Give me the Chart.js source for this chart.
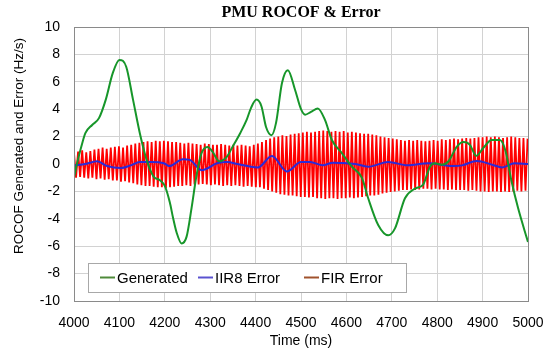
<!DOCTYPE html>
<html>
<head>
<meta charset="utf-8">
<script src="https://cdn.jsdelivr.net/npm/chart.js@4.4.1/dist/chart.umd.min.js"></script>
<style>
html, body { margin: 0; padding: 0; background: #fff; }
#chart { display: block; }
</style>
</head>
<body>
<canvas id="chart" width="550" height="355"></canvas>
<script>
// values
const chartTitle = "PMU ROCOF & Error";
const xTitle = "Time (ms)";
const yTitle = "ROCOF Generated and Error (Hz/s)";
const seriesNames = ["Generated", "IIR8 Error", "FIR Error"];

const xMin = 4000, xMax = 5000, xStep = 100;
const yMin = -10, yMax = 10, yStep = 2;

const genTime = [4000, 4005, 4010, 4018, 4025, 4040, 4055, 4070, 4085, 4100, 4115, 4130, 4145, 4160, 4175,
    4190, 4200, 4211, 4218, 4226, 4237, 4248, 4259, 4270, 4281, 4294, 4305, 4320, 4336, 4350, 4366,
    4380, 4390, 4402, 4413, 4423, 4435, 4445, 4458, 4471, 4487, 4500, 4509, 4522, 4537, 4553, 4568,
    4590, 4612, 4634, 4648, 4670, 4692, 4707, 4729, 4751, 4769, 4784, 4795, 4810, 4825, 4843, 4858,
    4872, 4886, 4901, 4920, 4938, 4950, 4964, 4978, 5000];
const genValues = [-1.0, -0.2, 0.5, 1.5, 2.25, 2.85, 3.35, 4.7, 6.6, 7.6, 7.1, 4.7, 2.25, 0.3, -0.9,
    -1.2, -1.6, -2.8, -3.9, -5.0, -5.8, -5.3, -3.2, -0.8, 0.8, 1.25, 0.9, 0.2, 0.5, 1.3, 2.25,
    3.2, 4.1, 4.7, 4.2, 2.7, 2.1, 3.0, 5.9, 6.85, 5.4, 4.0, 3.6, 3.8, 4.05, 3.2, 1.75,
    0.8, -0.2, -1.0, -2.5, -4.45, -5.2, -4.7, -2.5, -1.8, -1.5, -0.2, 0.05, -0.05, 0.2, 1.25, 1.6,
    1.4, 0.6, 1.15, 1.75, 1.75, 1.0, -1.3, -3.2, -5.7];

const iirTime = [4000, 4025, 4051, 4073, 4103, 4125, 4145, 4170, 4198, 4210, 4240, 4255, 4281, 4315,
    4337, 4360, 4390, 4405, 4436, 4469, 4500, 4520, 4548, 4570, 4600, 4620, 4648, 4692, 4735, 4780,
    4835, 4855, 4887, 4923, 4943, 4970, 5000];
const iirValues = [-0.1, 0.0, 0.2, -0.15, -0.3, -0.1, 0.15, 0.15, 0.05, -0.15, 0.35, 0.3, -0.45, 0.05,
    0.15, 0.0, -0.2, -0.25, 0.58, -0.55, 0.15, 0.15, -0.1, 0.1, 0.05, 0.0, -0.2, 0.15, -0.1, 0.05,
    -0.15, -0.1, 0.22, -0.07, -0.25, 0.05, 0.0];

// FIR error: peaks and troughs, one sample every 4.5 ms from 4000 ms
const firStart = 4000, firStep = 4.5;
const firValues = [
    0.8, -1.0, 0.9, -0.95, 1.0, -1.0, 0.85, -1.05, 0.95, -1.0,
    1.05, -1.1, 1.1, -1.05, 1.2, -1.15, 1.1, -1.1, 1.2, -1.2,
    1.25, -1.2, 1.3, -1.3, 1.2, -1.25, 1.35, -1.35, 1.4, -1.4,
    1.5, -1.5, 1.55, -1.55, 1.6, -1.6, 1.65, -1.6, 1.6, -1.65,
    1.7, -1.7, 1.65, -1.7, 1.7, -1.75, 1.65, -1.7, 1.6, -1.65,
    1.6, -1.6, 1.55, -1.6, 1.5, -1.55, 1.55, -1.6, 1.5, -1.5,
    1.45, -1.5, 1.4, -1.45, 1.5, -1.5, 1.45, -1.55, 1.4, -1.5,
    1.4, -1.55, 1.45, -1.6, 1.4, -1.55, 1.35, -1.6, 1.4, -1.55,
    1.35, -1.6, 1.4, -1.65, 1.35, -1.6, 1.3, -1.65, 1.4, -1.7,
    1.5, -1.7, 1.6, -1.8, 1.75, -1.9, 1.85, -2.0, 1.95, -2.1,
    2.0, -2.2, 2.1, -2.25, 2.05, -2.3, 2.15, -2.3, 2.2, -2.35,
    2.25, -2.4, 2.3, -2.4, 2.35, -2.45, 2.3, -2.4, 2.35, -2.5,
    2.4, -2.5, 2.45, -2.55, 2.4, -2.5, 2.35, -2.5, 2.4, -2.55,
    2.35, -2.5, 2.4, -2.5, 2.3, -2.45, 2.35, -2.5, 2.3, -2.45,
    2.25, -2.4, 2.2, -2.35, 2.2, -2.3, 2.15, -2.3, 2.1, -2.25,
    2.0, -2.15, 1.95, -2.1, 1.9, -2.05, 1.85, -2.0, 1.8, -1.95,
    1.75, -1.9, 1.7, -1.9, 1.75, -1.85, 1.7, -1.9, 1.75, -1.85,
    1.7, -1.8, 1.65, -1.8, 1.7, -1.85, 1.75, -1.8, 1.7, -1.85,
    1.8, -1.85, 1.75, -1.9, 1.8, -1.85, 1.85, -1.9, 1.8, -1.9,
    1.85, -1.9, 1.9, -1.95, 1.85, -1.9, 1.9, -1.95, 1.95, -2.0,
    1.95, -2.0, 2.0, -2.05, 1.95, -2.0, 2.0, -2.0, 1.95, -2.05,
    1.9, -2.0, 1.95, -2.05, 2.0, -2.0, 1.95, -1.95, 1.9, -2.0,
    1.9, -1.95, 1.85
];

const lineColors = ["#17962a", "#2a2ad8", "#ff0000"];
const legendColors = ["#4f8a3a", "#5a52d0", "#a0522d"];

const genData = genTime.map((t, i) => ({ x: t, y: genValues[i] }));
const iirData = iirTime.map((t, i) => ({ x: t, y: iirValues[i] }));
const firData = firValues.map((v, i) => ({ x: firStart + i * firStep, y: v }));

const sansFont = "'Liberation Sans', Arial, sans-serif";

// title, axis titles, frame and the boxed legend inside the plot
const decor = {
    id: "decor",
    afterDraw(chart) {
        const ctx = chart.ctx;
        const a = chart.chartArea;
        ctx.save();

        ctx.strokeStyle = "#8a8a8a";
        ctx.lineWidth = 1;
        ctx.strokeRect(Math.round(a.left) + 0.5, Math.round(a.top) + 0.5,
            Math.round(a.right - a.left), Math.round(a.bottom - a.top));

        ctx.fillStyle = "#000";
        ctx.textAlign = "center";
        ctx.textBaseline = "middle";
        ctx.font = "bold 16px 'Liberation Serif', 'Times New Roman', serif";
        ctx.fillText(chartTitle, (a.left + a.right) / 2, 13);

        ctx.font = "14px " + sansFont;
        ctx.fillText(xTitle, (a.left + a.right) / 2, 341);

        ctx.save();
        ctx.translate(19, 146);
        ctx.rotate(-Math.PI / 2);
        ctx.font = "13.5px " + sansFont;
        ctx.fillText(yTitle, 0, 0);
        ctx.restore();

        // legend box
        const bx = 88, by = 263, bw = 318, bh = 29;
        ctx.fillStyle = "#fff";
        ctx.fillRect(bx, by, bw, bh);
        ctx.strokeStyle = "#a8a8a8";
        ctx.strokeRect(bx + 0.5, by + 0.5, bw, bh);

        const itemX = [100, 198, 304];
        const cy = by + bh / 2;
        ctx.font = "15px " + sansFont;
        ctx.textAlign = "left";
        seriesNames.forEach((name, i) => {
            ctx.strokeStyle = legendColors[i];
            ctx.lineWidth = 2;
            ctx.beginPath();
            ctx.moveTo(itemX[i], cy);
            ctx.lineTo(itemX[i] + 15, cy);
            ctx.stroke();
            ctx.fillStyle = "#000";
            ctx.fillText(name, itemX[i] + 17, cy + 1);
        });

        ctx.restore();
    }
};

new Chart(document.getElementById("chart"), {
    type: "line",
    data: {
        datasets: [
            {
                label: seriesNames[0],
                data: genData,
                borderColor: lineColors[0],
                borderWidth: 2,
                cubicInterpolationMode: "monotone",
                order: 1,
            },
            {
                label: seriesNames[1],
                data: iirData,
                borderColor: lineColors[1],
                borderWidth: 2,
                cubicInterpolationMode: "monotone",
                order: 2,
            },
            {
                label: seriesNames[2],
                data: firData,
                borderColor: lineColors[2],
                borderWidth: 1.8,
                tension: 0,
                order: 3,
            },
        ],
    },
    options: {
        responsive: false,
        devicePixelRatio: 1,
        animation: false,
        elements: { point: { radius: 0 } },
        layout: { padding: { top: 27, right: 22, left: 0, bottom: 0 } },
        plugins: {
            legend: { display: false },
            title: { display: false },
            tooltip: { enabled: false },
        },
        scales: {
            x: {
                type: "linear",
                min: xMin,
                max: xMax,
                afterFit: s => { s.height = 54; s.paddingLeft = 0; s.paddingRight = 0; },
                ticks: {
                    stepSize: xStep,
                    padding: 14,
                    color: "#000",
                    font: { family: sansFont, size: 14 },
                    maxRotation: 0,
                    callback: v => String(v),
                },
                grid: { color: "#d2d2d2", drawTicks: false },
                border: { display: false },
            },
            y: {
                min: yMin,
                max: yMax,
                afterFit: s => { s.width = 74; s.paddingTop = 0; s.paddingBottom = 0; },
                ticks: {
                    stepSize: yStep,
                    padding: 14,
                    color: "#000",
                    font: { family: sansFont, size: 14 },
                },
                grid: { color: "#d2d2d2", drawTicks: false },
                border: { display: false },
            },
        },
    },
    plugins: [decor],
});
</script>
</body>
</html>
